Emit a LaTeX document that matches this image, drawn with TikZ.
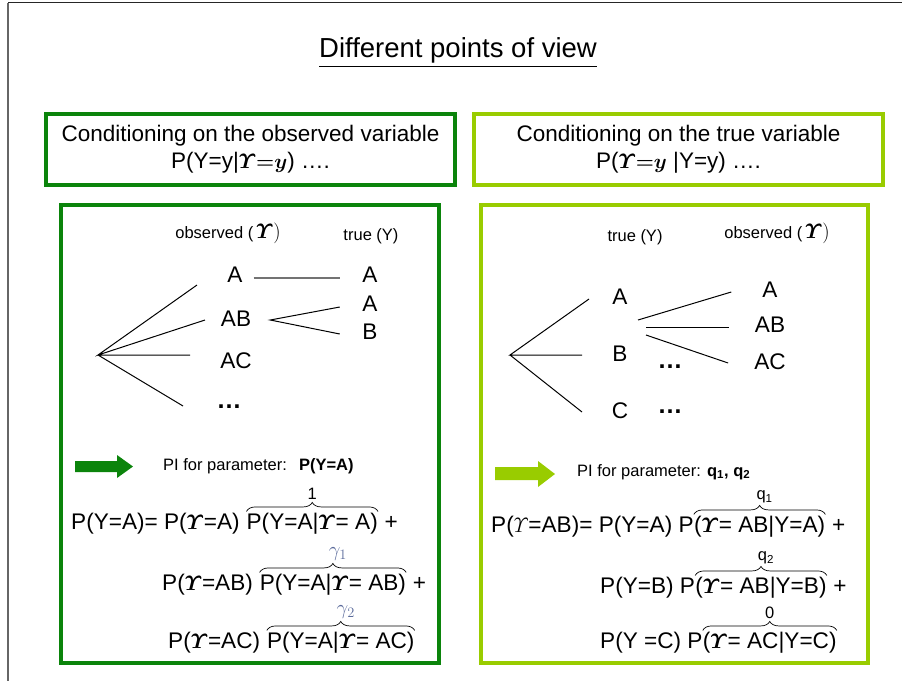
\documentclass[tikz,border=0pt]{standalone}
\usepackage{amsmath}
\usepackage{fontspec}
\setmainfont{Liberation Sans}
\usetikzlibrary{decorations.pathreplacing}
\definecolor{dkgreen}{HTML}{0B840B}
\definecolor{ltgreen}{HTML}{99CC00}
\definecolor{gamcol}{HTML}{5B6B9B}
\newcommand{\Ups}{\ensuremath{\boldsymbol{\varUpsilon}}}
\begin{document}
\begin{tikzpicture}[x=1pt,y=-1pt,
  big/.style={font=\fontsize{22.6}{27}\selectfont, inner sep=0pt},
  head/.style={font=\fontsize{22.5}{27}\selectfont},
  small/.style={font=\fontsize{16.5}{19}\selectfont, inner sep=0pt},
  ttl/.style={font=\fontsize{27.5}{32}\selectfont, inner sep=0pt},
  dots/.style={font=\fontsize{25}{27}\selectfont\bfseries, inner sep=0pt},
  branch/.style={line width=1pt, black},
  ovbrace/.style={decorate, decoration={brace, amplitude=9pt}, line width=0.7pt},
  darkbox/.style={draw=dkgreen, line width=#1, inner sep=0pt},
  lightbox/.style={draw=ltgreen, line width=#1, inner sep=0pt}]
\useasboundingbox (0,0) rectangle (902,681);

% slide frame
\draw[line width=1.5pt, black!85] (8,2.5) -- (902,2.5);
\draw[line width=1.5pt, black!60] (8,2.5) -- (8,681);

% title
\node[ttl] (title) at (458,53) {\underline{Different points of view}};

% heading boxes
\node[darkbox=3.5pt, minimum width=409pt, minimum height=71pt, align=center, head] (hobs) at (250.5,149.5)
  {Conditioning on the observed variable\\P(Y=y|$\boldsymbol{\varUpsilon{=}y}$) \ldots.};
\node[lightbox=3.5pt, minimum width=409pt, minimum height=71pt, align=center, head] (htrue) at (678.5,149.5)
  {Conditioning on the true variable\\P($\boldsymbol{\varUpsilon{=}y}$ |Y=y) \ldots.};

% panels
\node[darkbox=4pt, minimum width=378pt, minimum height=458pt] (lpanel) at (250,434) {};
\node[lightbox=4pt, minimum width=387pt, minimum height=458pt] (rpanel) at (674.5,434) {};

% ---------- left tree: observed -> true ----------
\node[small] (lobs) at (228,233) {observed (\,{\fontsize{21}{22}\selectfont$\boldsymbol{\varUpsilon})$}};
\node[small] (ltrue) at (371,236) {true (Y)};
\coordinate (lroot) at (98,355);
\coordinate (le1) at (197,285);
\coordinate (le2) at (205,320);
\coordinate (le3) at (190,355);
\coordinate (le4) at (183,406);
\draw[branch] (le1) -- (lroot) -- (le2) (lroot) -- (le3) (lroot) -- (le4);
\node[big] (oA) at (235,275) {A};
\node[big] (oAB) at (236,319) {AB};
\node[big] (oAC) at (236,361) {AC};
\node[dots] (odots) at (229,407) {\ldots};
\node[big] (tA1) at (370,275) {A};
\node[big] (tA2) at (370,304) {A};
\node[big] (tB) at (370,332) {B};
\draw[line width=1.4pt, black!55] ([shift={(11,3)}]oA.east) -- ([shift={(-22,3)}]tA1.west);
\draw[branch] ([shift={(-22.5,3)}]tA2.west) -- ([shift={(19,1)}]oAB.east) -- ([shift={(-22.5,2)}]tB.west);

% ---------- right tree: true -> observed ----------
\node[small] (rtrue) at (635,237) {true (Y)};
\node[small] (robs) at (777,233) {observed (\,{\fontsize{21}{22}\selectfont$\boldsymbol{\varUpsilon})$}};
\coordinate (rroot) at (510,355);
\coordinate (re1) at (589,299);
\coordinate (re2) at (582,355);
\coordinate (re3) at (582,412);
\draw[branch] (re1) -- (rroot) -- (re2) (rroot) -- (re3);
\node[big] (rA) at (620,297) {A};
\node[big] (rB) at (620,354) {B};
\node[big] (rC) at (620,411) {C};
\node[dots] (rdots1) at (670,367) {\ldots};
\node[dots] (rdots2) at (670,412) {\ldots};
\node[big] (roA) at (770,290) {A};
\node[big] (roAB) at (770,325) {AB};
\node[big] (roAC) at (770,362) {AC};
\draw[branch] ([shift={(18,23)}]rA.center) -- ([shift={(-31,2)}]roA.west);
\draw[branch] ([shift={(26,30)}]rA.center) -- ([shift={(-26,2)}]roAB.west);
\draw[branch] ([shift={(26,38)}]rA.center) -- ([shift={(-26,1)}]roAC.west);

% ---------- arrows ----------
\fill[dkgreen] (75,461) -- (117,461) -- (117,455) -- (133,466.5) -- (117,478) -- (117,472) -- (75,472) -- cycle;
\fill[ltgreen] (495,467) -- (538,467) -- (538,461) -- (555,474) -- (538,487) -- (538,480) -- (495,480) -- cycle;
\node[small, anchor=base west] (lpi) at (163,470) {PI for parameter:\hspace{12pt}\textbf{P(Y=A)}};
\node[small, anchor=base west] (rpi) at (577,476) {PI for parameter: \textbf{q\textsubscript{1}, q\textsubscript{2}}};

% ---------- left formula ----------
\node[big, anchor=base west] (l1a) at (71,529) {P(Y=A)= P(\Ups=A)};
\node[big, anchor=base west] (l1b) at ([xshift=6.5pt]l1a.base east) {P(Y=A|\Ups= A)};
\node[big, anchor=base west] (l1c) at ([xshift=6.5pt]l1b.base east) {+};
\draw[ovbrace] ([yshift=1pt]l1b.north west) -- ([yshift=1pt]l1b.north east)
  node[small, midway, above=12pt] (l1lab) {1};

\node[big, anchor=base west] (l2a) at (162,590) {P(\Ups=AB)};
\node[big, anchor=base west] (l2b) at ([xshift=6.5pt]l2a.base east) {P(Y=A|\Ups= AB)};
\node[big, anchor=base west] (l2c) at ([xshift=6.5pt]l2b.base east) {+};
\draw[ovbrace] ([yshift=1pt]l2b.north west) -- ([yshift=1pt]l2b.north east)
  node[midway, above=12pt, xshift=5pt, inner sep=0pt, text=gamcol, font=\fontsize{20}{21}\selectfont] (l2lab) {$\gamma_1$};

\node[big, anchor=base west] (l3a) at (168,648) {P(\Ups=AC)};
\node[big, anchor=base west] (l3b) at ([xshift=6.5pt]l3a.base east) {P(Y=A|\Ups= AC)};
\draw[ovbrace] ([yshift=1pt]l3b.north west) -- ([yshift=1pt]l3b.north east)
  node[midway, above=12pt, xshift=5pt, inner sep=0pt, text=gamcol, font=\fontsize{20}{21}\selectfont] (l3lab) {$\gamma_2$};

% ---------- right formula ----------
\node[big, anchor=base west] (r1a) at (491,532) {P($\varUpsilon$=AB)= P(Y=A) P};
\node[big, anchor=base west] (r1b) at (r1a.base east) {(\Ups= AB|Y=A)};
\node[big, anchor=base west] (r1c) at ([xshift=6.5pt]r1b.base east) {+};
\draw[ovbrace] ([yshift=1pt]r1b.north west) -- ([yshift=1pt]r1b.north east)
  node[small, midway, above=11pt, xshift=5pt] (r1lab) {q\textsubscript{1}};

\node[big, anchor=base west] (r2a) at (600,593) {P(Y=B) P};
\node[big, anchor=base west] (r2b) at (r2a.base east) {(\Ups= AB|Y=B)};
\node[big, anchor=base west] (r2c) at ([xshift=6.5pt]r2b.base east) {+};
\draw[ovbrace] ([yshift=1pt]r2b.north west) -- ([yshift=1pt]r2b.north east)
  node[small, midway, above=11pt, xshift=5pt] (r2lab) {q\textsubscript{2}};

\node[big, anchor=base west] (r3a) at (600,648) {P(Y =C) P};
\node[big, anchor=base west] (r3b) at (r3a.base east) {(\Ups= AC|Y=C)};
\draw[ovbrace] ([yshift=1pt]r3b.north west) -- ([yshift=1pt]r3b.north east)
  node[small, midway, above=11pt] (r3lab) {0};
\end{tikzpicture}
\end{document}
